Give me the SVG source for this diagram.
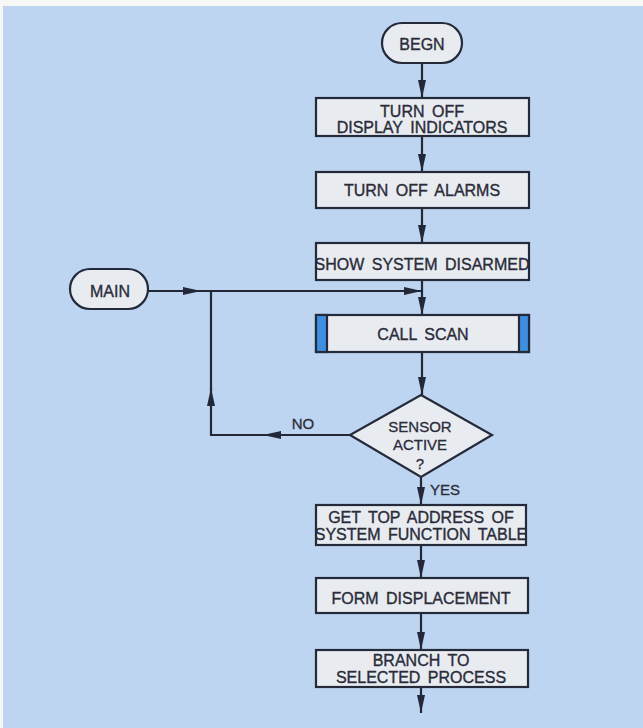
<svg xmlns="http://www.w3.org/2000/svg" width="643" height="728" viewBox="0 0 643 728">
<defs>
<style>
.bg{fill:#bdd5f0}
.box{fill:#e8ebf0;stroke:#252a3b;stroke-width:2.2}
.bar{fill:#3d8fe3;stroke:#252a3b;stroke-width:2.2}
.t{font-family:"Liberation Sans",Arial,sans-serif;font-size:16px;fill:#2a2c3a;stroke:#2a2c3a;stroke-width:0.35;text-anchor:middle;word-spacing:3px}
.ts{font-family:"Liberation Sans",Arial,sans-serif;font-size:15px;fill:#2a2c3a;stroke:#2a2c3a;stroke-width:0.3;text-anchor:middle}
.ln{fill:none;stroke:#232838;stroke-width:2.2}
</style>
<marker id="ah" viewBox="0 0 18 8" refX="18" refY="4" markerWidth="18" markerHeight="8" markerUnits="userSpaceOnUse" orient="auto">
<path d="M0,0 L18,4 L0,8 Z" fill="#232838"/>
</marker>
</defs>
<rect x="0" y="0" width="643" height="728" fill="#f7f7f5"/>
<rect class="bg" x="3" y="6" width="640" height="722"/>

<g id="connectors">
<path class="ln" d="M422,63 V98" marker-end="url(#ah)"/>
<path class="ln" d="M422,136 V172" marker-end="url(#ah)"/>
<path class="ln" d="M422,208 V243" marker-end="url(#ah)"/>
<path class="ln" d="M422,280 V315" marker-end="url(#ah)"/>
<path class="ln" d="M148,291 H201" marker-end="url(#ah)"/>
<path class="ln" d="M200,291 H422" marker-end="url(#ah)"/>
<path class="ln" d="M422,352 V395" marker-end="url(#ah)"/>
<path class="ln" d="M350,435 H263" marker-end="url(#ah)"/>
<path class="ln" d="M265,435 H211 V388" marker-end="url(#ah)"/>
<path class="ln" d="M211,390 V291"/>
<path class="ln" d="M421,477 V505" marker-end="url(#ah)"/>
<path class="ln" d="M421,545 V578" marker-end="url(#ah)"/>
<path class="ln" d="M421,613 V650" marker-end="url(#ah)"/>
<path class="ln" d="M421,687 V713" marker-end="url(#ah)"/>
<text class="ts" x="303" y="428.5">NO</text>
<text class="ts" x="445" y="495">YES</text>
</g>

<g id="begn">
<rect class="box" x="382" y="23" width="80" height="40" rx="20"/>
<text class="t" x="422" y="50">BEGN</text>
</g>

<g id="turn-off-display">
<rect class="box" x="316" y="98" width="213" height="38"/>
<text class="t" x="422" y="117">TURN OFF</text>
<text class="t" x="422" y="132.5">DISPLAY INDICATORS</text>
</g>

<g id="turn-off-alarms">
<rect class="box" x="316" y="172" width="213" height="36"/>
<text class="t" x="422" y="196">TURN OFF ALARMS</text>
</g>

<g id="show-disarmed">
<rect class="box" x="316" y="243" width="213" height="37"/>
<text class="t" x="422" y="269.5">SHOW SYSTEM DISARMED</text>
</g>

<g id="main">
<rect class="box" x="70" y="269" width="78" height="40" rx="20"/>
<text class="t" x="110" y="296.5">MAIN</text>
</g>

<g id="call-scan">
<rect class="box" x="316" y="315" width="213" height="37"/>
<rect class="bar" x="316" y="315" width="11" height="37"/>
<rect class="bar" x="519" y="315" width="10" height="37"/>
<text class="t" x="423" y="340">CALL SCAN</text>
</g>

<g id="sensor-active">
<polygon class="box" points="421,395 492,435 421,477 350,435"/>
<text class="ts" x="420" y="432">SENSOR</text>
<text class="ts" x="420" y="450">ACTIVE</text>
<text class="ts" x="420" y="469">?</text>
</g>

<g id="get-top-address">
<rect class="box" x="316" y="505" width="210" height="40"/>
<text class="t" x="421" y="523">GET TOP ADDRESS OF</text>
<text class="t" x="421" y="540">SYSTEM FUNCTION TABLE</text>
</g>

<g id="form-displacement">
<rect class="box" x="316" y="578" width="212" height="35"/>
<text class="t" x="421" y="603.5">FORM DISPLACEMENT</text>
</g>

<g id="branch">
<rect class="box" x="316" y="650" width="212" height="37"/>
<text class="t" x="421" y="666">BRANCH TO</text>
<text class="t" x="421" y="683">SELECTED PROCESS</text>
</g>
</svg>
